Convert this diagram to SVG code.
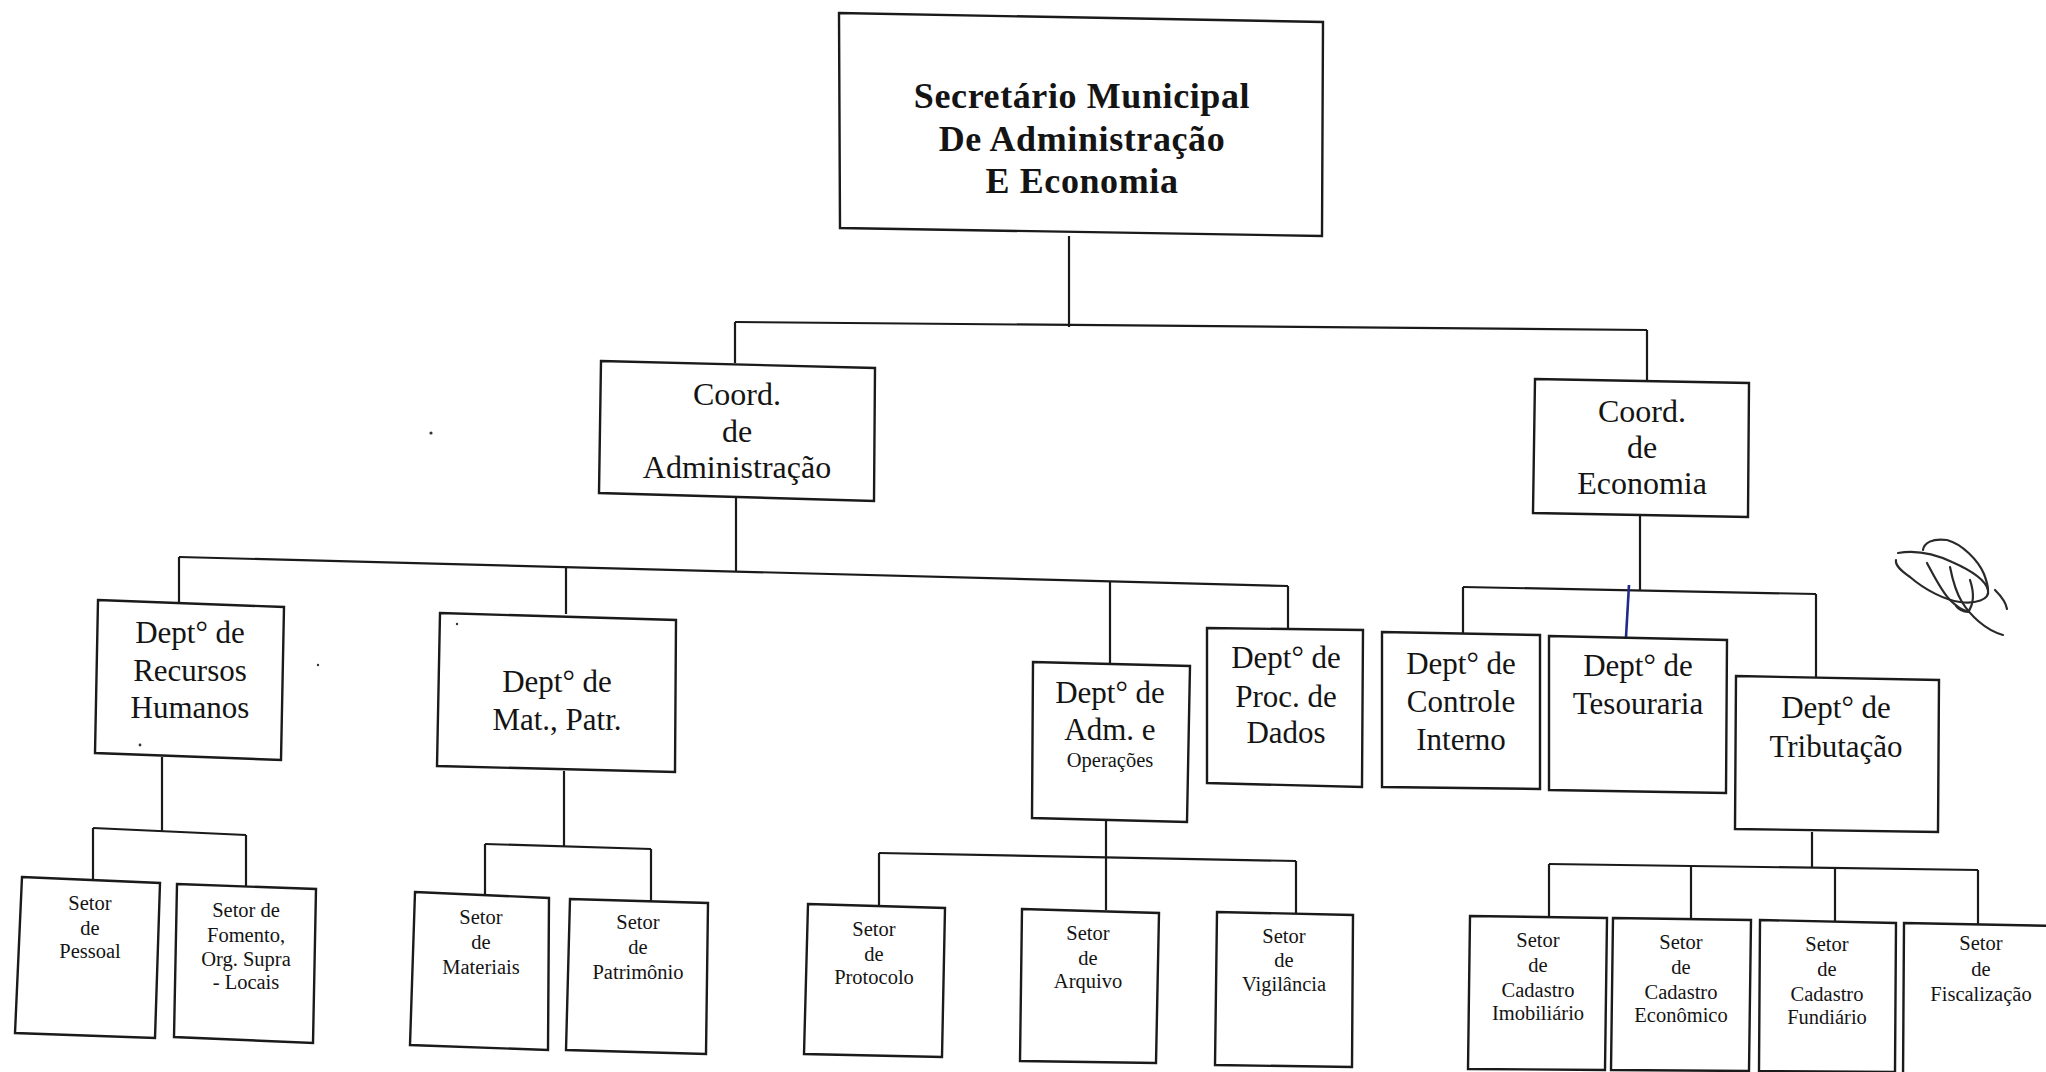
<svg xmlns="http://www.w3.org/2000/svg" width="2046" height="1072" viewBox="0 0 2046 1072">
<style>
  .box { fill: #ffffff; stroke: #1a1a1a; stroke-width: 2.4; stroke-linejoin: miter; }
  .ln { fill: none; stroke: #1a1a1a; stroke-width: 2.2; }
  .blue { fill: none; stroke: #1f2a8c; stroke-width: 2.6; }
  text { font-family: "Liberation Serif", "Times New Roman", serif; fill: #141414; text-anchor: middle; }
  .t0 { font-size: 36px; font-weight: bold; letter-spacing: 0.6px; }
  .t1 { font-size: 32px; }
  .t2 { font-size: 31px; }
  .t3 { font-size: 20.5px; }
  .sig { fill: none; stroke: #2a2a2a; stroke-width: 2.2; stroke-linecap: round; }
</style>
<rect x="0" y="0" width="2046" height="1072" fill="#ffffff"/>

<g id="connectors">
  <line class="ln" x1="1069" y1="236" x2="1069" y2="327"/>
  <line class="ln" x1="735" y1="322" x2="1647" y2="330"/>
  <line class="ln" x1="735" y1="322" x2="735" y2="363"/>
  <line class="ln" x1="1647" y1="330" x2="1647" y2="380"/>

  <line class="ln" x1="736" y1="497" x2="736" y2="572"/>
  <line class="ln" x1="179" y1="557" x2="1288" y2="586"/>
  <line class="ln" x1="179" y1="557" x2="179" y2="602"/>
  <line class="ln" x1="566" y1="567" x2="566" y2="614"/>
  <line class="ln" x1="1110" y1="581" x2="1110" y2="663"/>
  <line class="ln" x1="1288" y1="586" x2="1288" y2="629"/>

  <line class="ln" x1="1640" y1="514" x2="1640" y2="591"/>
  <line class="ln" x1="1463" y1="587" x2="1816" y2="594"/>
  <line class="ln" x1="1463" y1="587" x2="1463" y2="633"/>
  <line class="blue" x1="1629" y1="585" x2="1626" y2="637"/>
  <line class="ln" x1="1816" y1="594" x2="1816" y2="677"/>

  <line class="ln" x1="162" y1="757" x2="162" y2="831"/>
  <line class="ln" x1="93" y1="828" x2="246" y2="835"/>
  <line class="ln" x1="93" y1="828" x2="93" y2="880"/>
  <line class="ln" x1="246" y1="835" x2="246" y2="888"/>

  <line class="ln" x1="564" y1="771" x2="564" y2="846"/>
  <line class="ln" x1="485" y1="844" x2="651" y2="849"/>
  <line class="ln" x1="485" y1="844" x2="485" y2="894"/>
  <line class="ln" x1="651" y1="849" x2="651" y2="901"/>

  <line class="ln" x1="1106" y1="820" x2="1106" y2="910"/>
  <line class="ln" x1="879" y1="853" x2="1296" y2="861"/>
  <line class="ln" x1="879" y1="853" x2="879" y2="905"/>
  <line class="ln" x1="1296" y1="861" x2="1296" y2="913"/>

  <line class="ln" x1="1812" y1="832" x2="1812" y2="868"/>
  <line class="ln" x1="1549" y1="864" x2="1978" y2="870"/>
  <line class="ln" x1="1549" y1="864" x2="1549" y2="917"/>
  <line class="ln" x1="1691" y1="866" x2="1691" y2="919"/>
  <line class="ln" x1="1835" y1="868" x2="1835" y2="922"/>
  <line class="ln" x1="1978" y1="870" x2="1978" y2="925"/>
</g>

<g id="secretario">
  <polygon class="box" points="839,13 1323,22 1322,236 840,228"/>
  <text class="t0" x="1082" y="108">Secretário Municipal</text>
  <text class="t0" x="1082" y="151">De Administração</text>
  <text class="t0" x="1082" y="193">E Economia</text>
</g>

<g id="coord-adm">
  <polygon class="box" points="601,361 875,368 874,501 599,493"/>
  <text class="t1" x="737" y="405">Coord.</text>
  <text class="t1" x="737" y="442">de</text>
  <text class="t1" x="737" y="478">Administração</text>
</g>

<g id="coord-eco">
  <polygon class="box" points="1535,379 1749,383 1748,517 1533,513"/>
  <text class="t1" x="1642" y="422">Coord.</text>
  <text class="t1" x="1642" y="458">de</text>
  <text class="t1" x="1642" y="494">Economia</text>
</g>

<g id="dept-rh">
  <polygon class="box" points="98,600 284,607 281,760 95,753"/>
  <text class="t2" x="190" y="643">Dept° de</text>
  <text class="t2" x="190" y="681">Recursos</text>
  <text class="t2" x="190" y="718">Humanos</text>
</g>

<g id="dept-mat">
  <polygon class="box" points="440,613 676,620 675,772 437,766"/>
  <text class="t2" x="557" y="692">Dept° de</text>
  <text class="t2" x="557" y="730">Mat., Patr.</text>
</g>

<g id="dept-adm-oper">
  <polygon class="box" points="1033,662 1190,666 1187,822 1032,818"/>
  <text class="t2" x="1110" y="703">Dept° de</text>
  <text class="t2" x="1110" y="740">Adm. e</text>
  <text class="t3" x="1110" y="767">Operações</text>
</g>

<g id="dept-proc">
  <polygon class="box" points="1207,628 1363,630 1362,787 1207,783"/>
  <text class="t2" x="1286" y="668">Dept° de</text>
  <text class="t2" x="1286" y="707">Proc. de</text>
  <text class="t2" x="1286" y="743">Dados</text>
</g>

<g id="dept-controle">
  <polygon class="box" points="1382,632 1540,635 1540,789 1382,787"/>
  <text class="t2" x="1461" y="674">Dept° de</text>
  <text class="t2" x="1461" y="712">Controle</text>
  <text class="t2" x="1461" y="750">Interno</text>
</g>

<g id="dept-tesouraria">
  <polygon class="box" points="1549,636 1727,640 1726,793 1549,790"/>
  <text class="t2" x="1638" y="676">Dept° de</text>
  <text class="t2" x="1638" y="714">Tesouraria</text>
</g>

<g id="dept-tributacao">
  <polygon class="box" points="1736,676 1939,680 1938,832 1735,829"/>
  <text class="t2" x="1836" y="718">Dept° de</text>
  <text class="t2" x="1836" y="757">Tributação</text>
</g>

<g id="setor-pessoal">
  <polygon class="box" points="22,877 160,883 155,1038 15,1033"/>
  <text class="t3" x="90" y="910">Setor</text>
  <text class="t3" x="90" y="935">de</text>
  <text class="t3" x="90" y="958">Pessoal</text>
</g>

<g id="setor-fomento">
  <polygon class="box" points="177,884 316,889 313,1043 174,1037"/>
  <text class="t3" x="246" y="917">Setor de</text>
  <text class="t3" x="246" y="942">Fomento,</text>
  <text class="t3" x="246" y="966">Org. Supra</text>
  <text class="t3" x="246" y="989">- Locais</text>
</g>

<g id="setor-materiais">
  <polygon class="box" points="415,892 549,898 548,1050 410,1045"/>
  <text class="t3" x="481" y="924">Setor</text>
  <text class="t3" x="481" y="949">de</text>
  <text class="t3" x="481" y="974">Materiais</text>
</g>

<g id="setor-patrimonio">
  <polygon class="box" points="570,899 708,903 706,1054 566,1050"/>
  <text class="t3" x="638" y="929">Setor</text>
  <text class="t3" x="638" y="954">de</text>
  <text class="t3" x="638" y="979">Patrimônio</text>
</g>

<g id="setor-protocolo">
  <polygon class="box" points="808,904 945,908 942,1057 804,1054"/>
  <text class="t3" x="874" y="936">Setor</text>
  <text class="t3" x="874" y="961">de</text>
  <text class="t3" x="874" y="984">Protocolo</text>
</g>

<g id="setor-arquivo">
  <polygon class="box" points="1022,909 1159,913 1156,1063 1020,1061"/>
  <text class="t3" x="1088" y="940">Setor</text>
  <text class="t3" x="1088" y="965">de</text>
  <text class="t3" x="1088" y="988">Arquivo</text>
</g>

<g id="setor-vigilancia">
  <polygon class="box" points="1217,912 1353,915 1352,1067 1215,1065"/>
  <text class="t3" x="1284" y="943">Setor</text>
  <text class="t3" x="1284" y="967">de</text>
  <text class="t3" x="1284" y="991">Vigilância</text>
</g>

<g id="setor-cad-imob">
  <polygon class="box" points="1470,916 1607,918 1605,1070 1468,1069"/>
  <text class="t3" x="1538" y="947">Setor</text>
  <text class="t3" x="1538" y="972">de</text>
  <text class="t3" x="1538" y="997">Cadastro</text>
  <text class="t3" x="1538" y="1020">Imobiliário</text>
</g>

<g id="setor-cad-eco">
  <polygon class="box" points="1613,918 1751,920 1749,1071 1611,1070"/>
  <text class="t3" x="1681" y="949">Setor</text>
  <text class="t3" x="1681" y="974">de</text>
  <text class="t3" x="1681" y="999">Cadastro</text>
  <text class="t3" x="1681" y="1022">Econômico</text>
</g>

<g id="setor-cad-fund">
  <polygon class="box" points="1760,920 1896,923 1895,1072 1759,1071"/>
  <text class="t3" x="1827" y="951">Setor</text>
  <text class="t3" x="1827" y="976">de</text>
  <text class="t3" x="1827" y="1001">Cadastro</text>
  <text class="t3" x="1827" y="1024">Fundiário</text>
</g>

<g id="setor-fiscalizacao">
  <polygon class="box" points="1904,923 2060,926 2060,1080 1903,1080"/>
  <text class="t3" x="1981" y="950">Setor</text>
  <text class="t3" x="1981" y="976">de</text>
  <text class="t3" x="1981" y="1001">Fiscalização</text>
</g>

<g id="signature">
  <path class="sig" d="M1898,553 C1915,550 1935,554 1952,562 C1968,569 1985,578 1988,590 C1990,600 1975,604 1960,602 C1945,600 1925,590 1910,577 C1900,570 1895,565 1896,560"/>
  <path class="sig" d="M1923,550 C1924,543 1932,538 1947,540 C1962,544 1978,560 1984,574 C1987,582 1988,588 1988,590"/>
  <path class="sig" d="M1927,563 C1935,578 1942,592 1950,600 C1956,606 1962,610 1967,611"/>
  <path class="sig" d="M1950,567 C1953,582 1957,594 1962,602 C1970,615 1985,630 2003,635"/>
  <path class="sig" d="M1970,580 C1974,592 1974,604 1968,612 C1963,612 1958,609 1956,606"/>
  <path class="sig" d="M1995,590 C2001,596 2006,602 2007,609"/>
</g>

<g id="specks" fill="#333">
  <circle cx="431" cy="433" r="1.6"/>
  <circle cx="318" cy="665" r="1.2"/>
  <circle cx="140" cy="745" r="1.4"/>
  <circle cx="457" cy="624" r="1.2"/>
</g>
</svg>
